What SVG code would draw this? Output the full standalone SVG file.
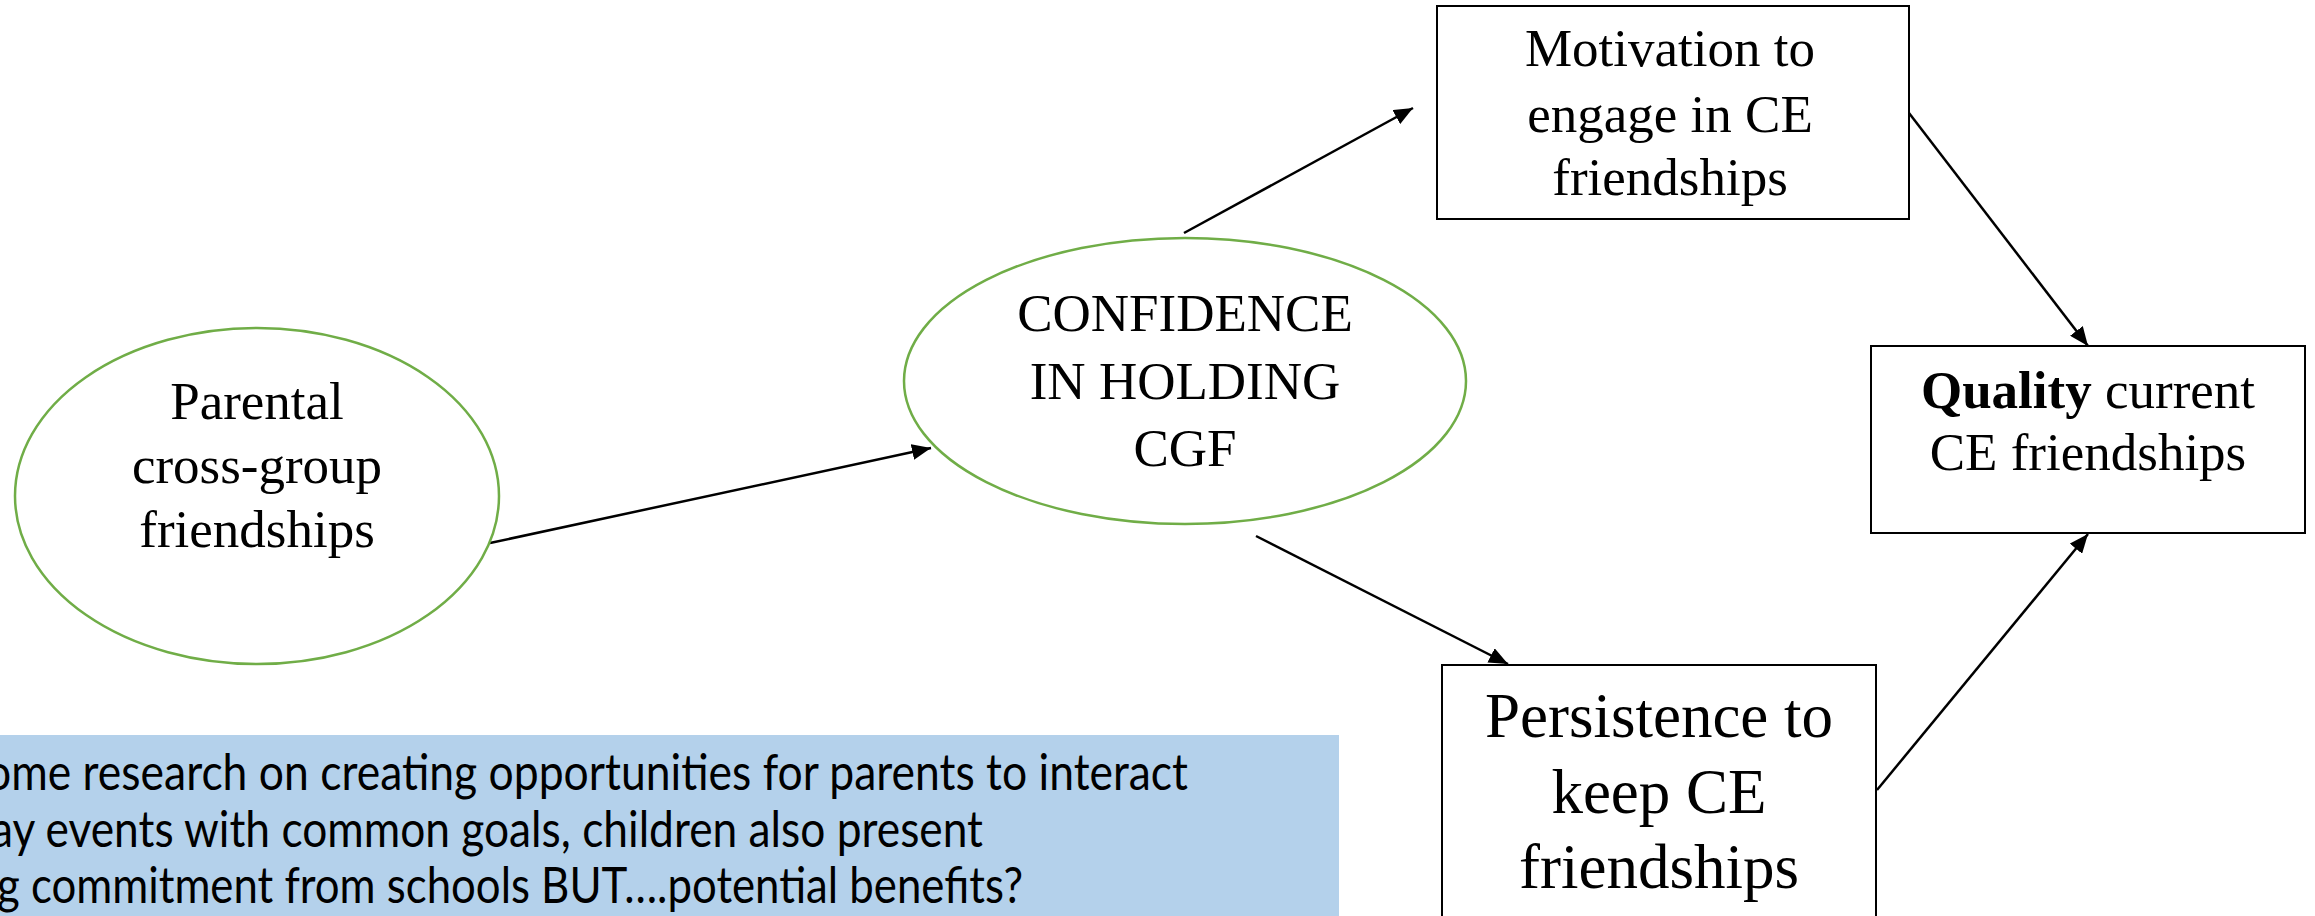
<svg xmlns="http://www.w3.org/2000/svg" width="2315" height="916" viewBox="0 0 2315 916">
<style>
.ell{fill:#ffffff;stroke:#70AD47;stroke-width:2.5}
.box{fill:#ffffff;stroke:#000000;stroke-width:2}
.t{font-family:"Liberation Serif","Times New Roman",serif;font-size:53px;fill:#000;text-anchor:middle}
.tb{font-family:"Liberation Serif","Times New Roman",serif;font-size:63px;fill:#000;text-anchor:middle}
.n{font-family:Lato,"Liberation Sans",sans-serif;font-size:50px;fill:#000}
.c{stroke:#000;stroke-width:2.5;fill:none;marker-end:url(#ah)}
</style>
<defs>
<marker id="ah" markerUnits="userSpaceOnUse" markerWidth="20" markerHeight="16" refX="19" refY="8" orient="auto">
<path d="M0,0 L19,8 L0,16 Z" fill="#000"/>
</marker>
</defs>
<rect width="2315" height="916" fill="#ffffff"/>
<g id="note">
<rect x="0" y="735" width="1339" height="181" fill="#B4D1EB"/>
<text class="n" x="-14" y="790" textLength="1202" lengthAdjust="spacingAndGlyphs">ome research on creating opportunities for parents to interact</text>
<text class="n" x="-9" y="847" textLength="992" lengthAdjust="spacingAndGlyphs">ay events with common goals, children also present</text>
<text class="n" x="-3" y="903" textLength="1026" lengthAdjust="spacingAndGlyphs">g commitment from schools BUT….potential benefits?</text>
</g>
<g id="connectors">
<line class="c" x1="490" y1="543" x2="931" y2="448"/>
<line class="c" x1="1184" y1="233" x2="1413" y2="108"/>
<line class="c" x1="1256" y1="536" x2="1508" y2="664"/>
<line class="c" x1="1909" y1="113" x2="2088" y2="346"/>
<line class="c" x1="1877" y1="790" x2="2088" y2="534"/>
</g>
<g id="parental">
<ellipse class="ell" cx="257" cy="496" rx="242" ry="168"/>
<text class="t" x="257" y="419">Parental</text>
<text class="t" x="257" y="483">cross-group</text>
<text class="t" x="257" y="547">friendships</text>
</g>
<g id="confidence">
<ellipse class="ell" cx="1185" cy="381" rx="281" ry="143"/>
<text class="t" x="1185" y="331">CONFIDENCE</text>
<text class="t" x="1185" y="399">IN HOLDING</text>
<text class="t" x="1185" y="466">CGF</text>
</g>
<g id="motivation">
<rect class="box" x="1437" y="6" width="472" height="213"/>
<text class="t" x="1670" y="66">Motivation to</text>
<text class="t" x="1670" y="132">engage in CE</text>
<text class="t" x="1670" y="195">friendships</text>
</g>
<g id="quality">
<rect class="box" x="1871" y="346" width="434" height="187"/>
<text class="t" x="2088" y="408"><tspan font-weight="bold">Quality</tspan> current</text>
<text class="t" x="2088" y="470">CE friendships</text>
</g>
<g id="persistence">
<rect class="box" x="1442" y="665" width="434" height="300"/>
<text class="tb" x="1659" y="737">Persistence to</text>
<text class="tb" x="1659" y="813">keep CE</text>
<text class="tb" x="1659" y="888">friendships</text>
</g>
</svg>
